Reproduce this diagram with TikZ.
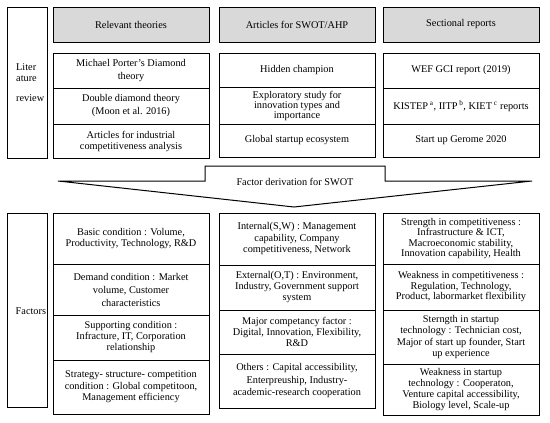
\documentclass[tikz,border=0pt]{standalone}
\usepackage{fontspec}
\setmainfont{Liberation Serif}
\definecolor{hdrgray}{RGB}{217,217,217}
\tikzset{
  box/.style={draw, line width=1pt, align=center, inner sep=1pt, font=\fontsize{10.3}{11}\selectfont},
  hdr/.style={box, fill=hdrgray},
  plain/.style={align=left, inner sep=0pt, font=\fontsize{10.3}{11}\selectfont},
  arrowshape/.style={draw, line width=1pt, line join=miter}
}
\newcommand\mybox[7][]{\node[box,#1,minimum width={(#4-#2)*1pt},minimum height={(#5-#3)*1pt}] (#6) at ({(#2+#4)/2},{(#3+#5)/2}) {#7};}
\begin{document}
\begin{tikzpicture}[x=1pt,y=-1pt]
\useasboundingbox (0,0) rectangle (550,423);
% side boxes
\mybox{7}{7}{47}{158}{lit}{}
\node[plain, anchor=west] (littext) at (16,83) {Liter\\ature\\[9pt]review};
\mybox{7}{213}{47}{407}{fac}{}
\node[plain, anchor=west] (factext) at (15.5,311) {Factors};
% headers
\mybox[hdr]{53}{7}{209}{42}{h1}{Relevant theories}
\mybox[hdr]{219}{7}{375}{42}{h2}{Articles for SWOT/AHP}
\mybox[hdr]{383}{7}{539}{42}{h3}{Sectional reports}
% upper rows
\mybox[font=\fontsize{10.3}{13}\selectfont]{53}{53}{209}{88}{a1}{Michael Porter's Diamond\\theory}
\mybox[font=\fontsize{10.3}{13}\selectfont]{53}{88}{209}{124}{a2}{Double diamond theory\\(Moon et al. 2016)}
\mybox{53}{124}{209}{158}{a3}{Articles for industrial\\competitiveness analysis}
\mybox{219}{53}{375}{87}{b1}{Hidden champion}
\mybox[font=\fontsize{10.3}{10}\selectfont]{219}{87}{375}{124}{b2}{Exploratory study for\\innovation types and\\importance}
\mybox{219}{124}{375}{157}{b3}{Global startup ecosystem}
\mybox{383}{53}{539}{88}{c1}{WEF GCI report (2019)}
\mybox{383}{88}{539}{124}{c2}{KISTEP\,\textsuperscript{a}, IITP\,\textsuperscript{b}, KIET\,\textsuperscript{c} reports}
\mybox{383}{124}{539}{157}{c3}{Start up Gerome 2020}
% arrow
\draw[arrowshape] (58,181) -- (205,181) -- (205,166) -- (385,166) -- (385,181) -- (532,181) -- (294,207) -- cycle;
\node[plain] (arrtext) at (295,182) {Factor derivation for SWOT};
% lower rows
\mybox{53}{213}{209}{264}{d1}{Basic condition : Volume,\\Productivity, Technology, R\&D}
\mybox[font=\fontsize{10.3}{13}\selectfont]{53}{264}{209}{315}{d2}{Demand condition : Market\\volume, Customer\\characteristics}
\mybox{53}{315}{209}{360}{d3}{Supporting condition :\\Infracture, IT, Corporation\\relationship}
\mybox[font=\fontsize{10.3}{11.5}\selectfont]{53}{360}{209}{414}{d4}{Strategy- structure- competition\\condition : Global competitoon,\\Management efficiency}
\mybox[font=\fontsize{10.3}{11.5}\selectfont]{219}{213}{375}{265}{e1}{Internal(S,W) : Management\\capability, Company\\competitiveness, Network}
\mybox{219}{265}{375}{310}{e2}{External(O,T) : Environment,\\Industry, Government support\\system}
\mybox{219}{310}{375}{354}{e3}{Major competancy factor :\\Digital, Innovation, Flexibility,\\R\&D}
\mybox[font=\fontsize{10.3}{12.5}\selectfont]{219}{354}{375}{408}{e4}{Others : Capital accessibility,\\Enterpreuship, Industry-\\academic-research cooperation}
\mybox[font=\fontsize{10.3}{10.2}\selectfont]{383}{213}{539}{264}{f1}{Strength in competitiveness :\\Infrastructure \& ICT,\\Macroeconomic stability,\\Innovation capability, Health}
\mybox[font=\fontsize{10.3}{10.5}\selectfont]{383}{264}{539}{310}{f2}{Weakness in competitiveness :\\Regulation, Technology,\\Product, labormarket flexibility}
\mybox[font=\fontsize{10.3}{11.3}\selectfont]{383}{310}{539}{364}{f3}{Sterngth in startup\\technology : Technician cost,\\Major of start up founder, Start\\up experience}
\mybox[font=\fontsize{10.3}{11}\selectfont]{383}{364}{539}{415}{f4}{Weakness in startup\\technology : Cooperaton,\\Venture capital accessibility,\\Biology level, Scale-up}
\end{tikzpicture}
\end{document}
